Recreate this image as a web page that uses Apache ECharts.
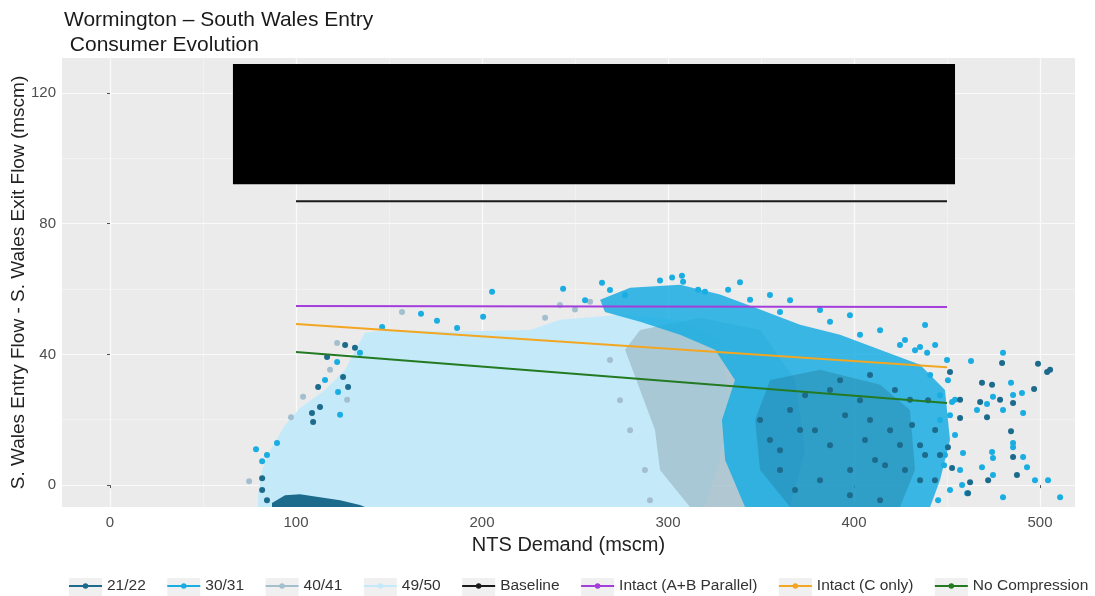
<!DOCTYPE html>
<html>
<head>
<meta charset="utf-8">
<script src="https://cdn.jsdelivr.net/npm/echarts@6/dist/echarts.min.js"></script>
<style>
  html, body { margin: 0; padding: 0; background: #ffffff; }
  #chart { width: 1095px; height: 596px; }
</style>
</head>
<body>
<div id="chart"></div>
<script>
// ---- Series names (legend order) ----
const seriesNames = ['21/22', '30/31', '40/41', '49/50', 'Baseline', 'Intact (A+B Parallel)', 'Intact (C only)', 'No Compression'];

// ---- Capacity lines: [NTS demand, entry - exit flow] ----
const baseline = [[100, 86.9], [450, 86.9]];
const intactAB = [[100, 54.8], [450, 54.5]];
const intactC = [[100, 49.3], [450, 36.1]];
const noCompression = [[100, 40.7], [450, 25.1]];

// ---- Dense consumer clouds, outlined as regions [demand, flow] ----
const cloud4950 = [[79.6, -6.7], [79.6, -3.1], [81.8, 4.6], [86.1, 10.7], [94.1, 18.4], [102.2, 23.6], [115.6, 29.1], [126.4, 35.3], [133.4, 42.9], [137.1, 46.6], [147.9, 47.5], [182.8, 46.9], [225.8, 47.5], [242.0, 50.6], [274.2, 52.1], [306.5, 50.6], [328.0, 44.5], [333.3, 26.1], [328.0, 7.7], [319.9, -6.7]];
const cloud4041 = [[285.0, 47.5], [317.2, 51.2], [349.5, 47.5], [368.3, 32.2], [373.7, 10.7], [365.6, -6.7], [311.8, -6.7], [295.7, 4.6], [293.0, 16.9], [285.0, 29.1], [276.9, 41.4]];
const cloud3031 = [[263.5, 56.7], [279.6, 60.4], [306.5, 61.3], [328.0, 58.3], [349.5, 53.7], [371.0, 49.1], [392.5, 46.0], [414.0, 41.4], [435.5, 36.8], [448.9, 29.1], [451.6, 13.8], [446.2, 1.5], [440.9, -6.7], [341.4, -6.7], [330.7, 7.7], [329.0, 19.9], [336.0, 32.2], [325.3, 41.4], [306.5, 46.0], [285.0, 50.0], [266.1, 53.0]];
const cloud2122 = [[354.9, 32.2], [381.7, 35.3], [414.0, 30.7], [430.1, 23.0], [432.8, 4.6], [424.7, -6.7], [365.6, -6.7], [349.5, 4.6], [346.8, 19.9]];
const cloud2122Low = [[87.1, -5.5], [94.1, -3.1], [102.2, -2.8], [112.9, -3.7], [123.7, -4.6], [134.4, -6.1], [137.1, -6.7], [87.1, -6.7]];

// ---- Individual consumer points outside / across the dense clouds ----
const points3031 = [
  [480.1, 40.5], [462.9, 38.0], [484.4, 31.3], [485.5, 27.6], [490.3, 28.2], [466.1, 23.0], [471.5, 24.8], [474.7, 27.0],
  [480.1, 23.0], [490.9, 22.1], [454.3, 26.1], [452.7, 25.4], [474.2, 10.1], [474.7, 8.3], [485.5, 12.9], [485.5, 11.6],
  [490.9, 8.6], [493.0, 5.5], [468.8, 5.5], [474.7, 3.1], [497.3, 1.5], [504.3, 1.5], [510.8, -3.7], [480.1, -3.7],
  [460.8, -2.5], [458.1, 0.0], [458.6, 9.8], [450.0, 38.3], [439.3, 40.5], [435.5, 42.3],
  [243.6, 60.1], [264.5, 61.9], [295.7, 62.6], [302.2, 63.5], [307.5, 64.1], [308.1, 62.2], [316.2, 59.8], [319.9, 59.2],
  [332.3, 59.8], [205.4, 59.2], [167.2, 52.4], [175.8, 50.3], [186.6, 48.1], [200.6, 51.5], [146.3, 48.4],
  [78.5, 11.0], [81.8, 7.3], [84.4, 9.2], [89.8, 12.9], [115.6, 32.2], [122.6, 28.5], [123.7, 21.5], [122.1, 37.7], [134.4, 40.5],
  [443.6, 42.9], [446.2, 19.9], [448.4, 6.1], [445.2, -4.6], [360.2, 53.0], [387.1, 50.0], [403.2, 46.0], [424.7, 42.9], [344.1, 56.7],
  [427.4, 44.4], [432.8, 41.3], [440.9, 33.7], [450.5, 32.1], [451.6, 21.4], [454.3, 15.3], [448.9, 9.2], [451.6, -1.5],
  [457.0, 4.6], [446.2, 27.5], [438.2, 49.0], [414.0, 47.4], [397.8, 52.0], [381.7, 53.6], [365.6, 56.6], [354.8, 58.2],
  [338.7, 62.1], [276.9, 58.2], [268.8, 59.7], [255.4, 56.6]
];
const points2122 = [
  [479.6, 37.4], [498.9, 37.1], [503.8, 34.6], [505.4, 35.3], [496.8, 29.4], [468.8, 31.3], [474.2, 30.7], [467.8, 25.4],
  [478.5, 26.1], [485.5, 25.1], [457.0, 20.5], [471.5, 20.8], [484.4, 16.5], [485.5, 8.6], [487.6, 3.1], [472.1, 1.5],
  [462.4, 0.9], [461.3, -2.5], [451.6, 34.6], [457.0, 26.1], [450.5, 11.6], [452.7, 5.2],
  [126.4, 42.9], [131.7, 42.0], [116.7, 39.2], [111.9, 30.0], [112.9, 23.9], [108.6, 22.1], [109.2, 19.3], [125.3, 33.1],
  [128.0, 30.0], [81.8, 2.1], [81.8, -1.5], [84.4, -4.6],
  [387.1, 29.1], [408.6, 19.9], [424.7, 12.3], [435.5, 1.5], [416.7, 6.1], [397.9, 4.6], [430.1, 26.1], [443.6, 16.9],
  [438.2, 9.2], [371.0, 16.9], [360.2, 10.7],
  [365.6, 23.0], [373.7, 27.5], [379.0, 16.8], [387.1, 12.2], [395.2, 21.4], [403.2, 26.0], [405.9, 13.8], [411.3, 7.7],
  [419.4, 16.8], [422.0, 29.1], [427.4, 4.6], [431.2, 18.4], [435.5, 12.2], [439.8, 26.0], [443.5, 1.5], [446.2, 9.2],
  [360.2, 4.6], [354.8, 13.8], [368.3, -1.5], [397.8, -3.1], [414.0, -4.6], [381.7, 1.5], [349.5, 19.9], [408.6, 33.7], [392.5, 32.1]
];
const points4041 = [
  [74.8, 1.2], [97.3, 20.8], [122.1, 43.5], [118.3, 35.3], [103.8, 27.0], [127.5, 26.1], [157.0, 53.0], [233.9, 51.2],
  [250.0, 53.7], [258.1, 56.1], [274.2, 26.0], [279.6, 16.8], [287.6, 4.6], [268.8, 38.3], [290.3, -4.6], [241.9, 55.1]
];

// ---- Redacted block over the upper panel [demand, flow] corners ----
const redactedBox = [[66.1, 128.9], [454.3, 92.1]];

// ---- Axis extents and tick spacing ----
const X_MIN = -25.8, X_MAX = 518.8, X_MAJOR = 100, X_MINOR = 50;
const Y_MIN = -6.7, Y_MAX = 130.7, Y_MAJOR = 40, Y_MINOR = 20;

const FONT = '"Liberation Sans", Arial, sans-serif';
const colors = {
  '21/22': '#1D6B8C',
  '30/31': '#1AADE2',
  '40/41': '#A3BFCD',
  '49/50': '#C4EAF9',
  'Baseline': '#1A1A1A',
  'Intact (A+B Parallel)': '#A33EDB',
  'Intact (C only)': '#F2A622',
  'No Compression': '#237A23'
};

// Filled region drawn through the axis scales
function regionSeries(name, pts, color, opacity, z) {
  return {
    type: 'custom', name: name, z: z, silent: true, clip: true,
    itemStyle: { color: color },
    data: pts,
    renderItem: function (params, api) {
      if (params.dataIndex !== 0) return null;
      return {
        type: 'polygon',
        shape: { points: pts.map(function (p) { return api.coord(p); }) },
        style: { fill: color, opacity: opacity }
      };
    }
  };
}

function pointSeries(name, pts, z) {
  return {
    type: 'scatter', name: name, z: z, silent: true,
    symbolSize: 6,
    itemStyle: { color: colors[name], opacity: 1 },
    data: pts
  };
}

function lineSeries(name, pts) {
  return {
    type: 'line', name: name, z: 8, silent: true,
    showSymbol: false,
    itemStyle: { color: colors[name] },
    lineStyle: { color: colors[name], width: 2 },
    data: pts
  };
}

const legendIcon = 'path://M0,2.1 L30,2.1 L30,3.9 L0,3.9 Z M15,0.5 A2.5,2.5 0 1 1 14.99,0.5 Z';
const legendBase = {
  orient: 'horizontal', left: 69, top: 578, padding: 0,
  itemWidth: 33, itemHeight: 24, itemGap: 21.5,
  selectedMode: false,
  textStyle: { fontFamily: FONT, fontSize: 15.5, color: '#333333' }
};

const chart = echarts.init(document.getElementById('chart'), null, { renderer: 'canvas' });

chart.setOption({
  animation: false,
  backgroundColor: '#FFFFFF',
  title: {
    text: 'Wormington \u2013 South Wales Entry\n Consumer Evolution',
    left: 64, top: 8, padding: 0,
    textStyle: { fontFamily: FONT, fontSize: 21, fontWeight: 'normal', color: '#1A1A1A', lineHeight: 25 }
  },
  legend: [
    Object.assign({}, legendBase, {
      z: 1,
      icon: 'rect',
      itemStyle: { color: '#F0F0F0', borderWidth: 0 },
      textStyle: { fontFamily: FONT, fontSize: 15.5, color: 'rgba(0,0,0,0)' },
      data: seriesNames
    }),
    Object.assign({}, legendBase, {
      z: 2,
      icon: legendIcon,
      data: seriesNames.map(function (n) { return { name: n, itemStyle: { color: colors[n], borderWidth: 0 } }; })
    })
  ],
  grid: {
    left: 62, right: 20, top: 58, bottom: 89,
    outerBoundsMode: 'none', containLabel: false,
    show: true, backgroundColor: '#EBEBEB', borderWidth: 0
  },
  xAxis: [{
    type: 'value', min: X_MIN, max: X_MAX, minInterval: X_MAJOR, maxInterval: X_MAJOR,
    axisLine: { show: false },
    axisTick: { show: true, length: 3, lineStyle: { color: '#555555' } },
    axisLabel: { margin: 8, color: '#4D4D4D', fontSize: 15, fontFamily: FONT, showMinLabel: false, showMaxLabel: false },
    splitLine: { show: true, showMinLine: false, showMaxLine: false, lineStyle: { color: '#FFFFFF', width: 1.2 } },
    name: 'NTS Demand (mscm)', nameLocation: 'middle', nameGap: 28, nameMoveOverlap: false,
    nameTextStyle: { fontFamily: FONT, fontSize: 20, color: '#222222' }
  }, {
    type: 'value', min: X_MIN, max: X_MAX, minInterval: X_MINOR, maxInterval: X_MINOR,
    position: 'bottom',
    axisLine: { show: false }, axisTick: { show: false }, axisLabel: { show: false },
    splitLine: { show: true, showMinLine: false, showMaxLine: false, lineStyle: { color: '#F7F7F7', width: 0.6 } }
  }],
  yAxis: [{
    type: 'value', min: Y_MIN, max: Y_MAX, minInterval: Y_MAJOR, maxInterval: Y_MAJOR,
    axisLine: { show: false },
    axisTick: { show: true, length: 3, lineStyle: { color: '#555555' } },
    axisLabel: { margin: 6, color: '#4D4D4D', fontSize: 15, fontFamily: FONT, showMinLabel: false, showMaxLabel: false },
    splitLine: { show: true, showMinLine: false, showMaxLine: false, lineStyle: { color: '#FFFFFF', width: 1.2 } },
    name: 'S. Wales Entry Flow - S. Wales Exit Flow (mscm)', nameLocation: 'middle', nameRotate: 90, nameGap: 34, nameMoveOverlap: false,
    nameTextStyle: { fontFamily: FONT, fontSize: 19, color: '#222222' }
  }, {
    type: 'value', min: Y_MIN, max: Y_MAX, minInterval: Y_MINOR, maxInterval: Y_MINOR,
    position: 'left',
    axisLine: { show: false }, axisTick: { show: false }, axisLabel: { show: false },
    splitLine: { show: true, showMinLine: false, showMaxLine: false, lineStyle: { color: '#F7F7F7', width: 0.6 } }
  }],
  series: [
    regionSeries('49/50', cloud4950, colors['49/50'], 1, 2),
    regionSeries('40/41', cloud4041, colors['40/41'], 0.8, 3),
    pointSeries('40/41', points4041, 3),
    regionSeries('30/31', cloud3031, colors['30/31'], 0.85, 4),
    pointSeries('30/31', points3031, 4),
    regionSeries('21/22', cloud2122, colors['21/22'], 0.3, 5),
    regionSeries('21/22', cloud2122Low, colors['21/22'], 1, 5),
    pointSeries('21/22', points2122, 5),
    lineSeries('Baseline', baseline),
    lineSeries('Intact (A+B Parallel)', intactAB),
    lineSeries('Intact (C only)', intactC),
    lineSeries('No Compression', noCompression),
    {
      type: 'custom', name: 'redacted', z: 10, silent: true,
      data: redactedBox,
      renderItem: function (params, api) {
        if (params.dataIndex !== 0) return null;
        const a = api.coord(redactedBox[0]);
        const b = api.coord(redactedBox[1]);
        return {
          type: 'rect',
          shape: { x: a[0], y: a[1], width: b[0] - a[0], height: b[1] - a[1] },
          style: { fill: '#000000' }
        };
      }
    }
  ]
});
</script>
</body>
</html>
